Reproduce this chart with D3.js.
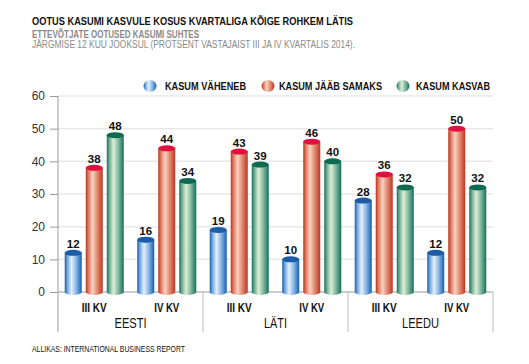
<!DOCTYPE html>
<html>
<head>
<meta charset="utf-8">
<script src="https://cdn.jsdelivr.net/npm/d3@7"></script>
<style>
  body { margin: 0; background: white; }
  .cond { font-family: "Liberation Sans", Arial, sans-serif; }
</style>
</head>
<body>
<div id="vis"></div>
<script>
// data
let countries = ['EESTI', 'LÄTI', 'LEEDU'];
let quarters = ['III KV', 'IV KV'];
let series = ['KASUM VÄHENEB', 'KASUM JÄÄB SAMAKS', 'KASUM KASVAB'];
// values per country, per quarter, in series order
let eesti = [[12, 38, 48], [16, 44, 34]];
let lati = [[19, 43, 39], [10, 46, 40]];
let leedu = [[28, 36, 32], [12, 50, 32]];
let yTicks = [0, 10, 20, 30, 40, 50, 60];

let values = { 'EESTI': eesti, 'LÄTI': lati, 'LEEDU': leedu };

let width = 529, height = 364;
let margin = { top: 96, left: 58, right: 36, bottom: 72 };

let svg = d3.select('#vis')
  .append('svg')
  .attr('width', width)
  .attr('height', height)
  .style('background-color', 'white');

// squeeze a text to a given width (the original uses a condensed face)
function squeeze(sel, w) {
  sel.attr('textLength', w).attr('lengthAdjust', 'spacingAndGlyphs');
}

// gradients for the cylinders
let colors = [
  { dark: '#155fae', mid: '#7fb0e2', light: '#e4f0fb', top: '#1c5ca6' },
  { dark: '#bd3522', mid: '#e0826a', light: '#f9d2c0', top: '#e0113f' },
  { dark: '#14705a', mid: '#7cb49c', light: '#dcefd4', top: '#0f6a52' }
];
let defs = svg.append('defs');
colors.forEach((c, i) => {
  let g = defs.append('linearGradient').attr('id', 'grad' + i)
    .attr('x1', '0%').attr('x2', '100%').attr('y1', '0%').attr('y2', '0%');
  g.append('stop').attr('offset', '0%').attr('stop-color', c.dark);
  g.append('stop').attr('offset', '18%').attr('stop-color', c.mid);
  g.append('stop').attr('offset', '40%').attr('stop-color', c.light);
  g.append('stop').attr('offset', '70%').attr('stop-color', c.mid);
  g.append('stop').attr('offset', '100%').attr('stop-color', c.dark);
});

// scales
let x0 = d3.scaleBand().domain(countries).range([margin.left, width - margin.right]);
let x1 = d3.scaleBand().domain(quarters).range([0, x0.bandwidth()]);
let x2 = d3.scaleBand().domain(series).range([0, x1.bandwidth()])
  .paddingInner(0.19).paddingOuter(0.32);
let y = d3.scaleLinear().domain([0, 60]).range([height - margin.bottom, margin.top]);

// titles
svg.append('text').attr('class', 'cond')
  .attr('x', 32).attr('y', 25)
  .style('font-size', '10.5px').style('font-weight', 'bold').attr('fill', '#111')
  .text('OOTUS KASUMI KASVULE KOSUS KVARTALIGA KÕIGE ROHKEM LÄTIS')
  .call(squeeze, 321);
svg.append('text').attr('class', 'cond')
  .attr('x', 32).attr('y', 37.5)
  .style('font-size', '10px').style('font-weight', 'bold').attr('fill', '#8a8a8a')
  .text('ETTEVÕTJATE OOTUSED KASUMI SUHTES')
  .call(squeeze, 167);
svg.append('text').attr('class', 'cond')
  .attr('x', 32).attr('y', 48)
  .style('font-size', '10px').attr('fill', '#8a8a8a')
  .text('JÄRGMISE 12 KUU JOOKSUL (PROTSENT VASTAJAIST III JA IV KVARTALIS 2014).')
  .call(squeeze, 323);

// gridlines
svg.append('g')
  .selectAll('line')
  .data(yTicks.filter(d => d > 0))
  .join('line')
  .attr('x1', margin.left).attr('x2', width - margin.right)
  .attr('y1', d => y(d)).attr('y2', d => y(d))
  .attr('stroke', '#e8e8e8').attr('stroke-width', 1.5);

// y axis
let yAxis = svg.append('g')
  .attr('transform', `translate(${margin.left},0)`)
  .call(d3.axisLeft(y).tickValues(yTicks).tickSize(8).tickPadding(5));
yAxis.select('.domain').attr('stroke', '#9a9a9a').attr('d', `M0,${y(60)}V${height - margin.bottom + 40}`);
yAxis.selectAll('.tick line').attr('stroke', '#9a9a9a');
yAxis.selectAll('.tick text')
  .style('font-family', 'Arial, "Liberation Sans", sans-serif')
  .style('font-size', '12px').attr('fill', '#333');

// baseline
svg.append('line')
  .attr('x1', margin.left).attr('x2', width - margin.right)
  .attr('y1', y(0)).attr('y2', y(0))
  .attr('stroke', '#9a9a9a');

// country separators
svg.append('g')
  .selectAll('line')
  .data(countries)
  .join('line')
  .attr('x1', d => x0(d) + x0.bandwidth()).attr('x2', d => x0(d) + x0.bandwidth())
  .attr('y1', y(0)).attr('y2', y(0) + 40)
  .attr('stroke', '#bdbdbd');

// bars
let flat = [];
countries.forEach(c => quarters.forEach((q, qi) => series.forEach((s, si) => {
  flat.push({ country: c, quarter: q, series: s, si: si, value: values[c][qi][si] });
})));

let ry = 3;
let bars = svg.append('g')
  .selectAll('g')
  .data(flat)
  .join('g')
  .attr('transform', d => `translate(${x0(d.country) + x1(d.quarter) + x2(d.series)},0)`);

let bw = x2.bandwidth();
bars.append('path')
  .attr('d', d => {
    let top = y(d.value), bot = y(0);
    return `M0,${top}V${bot}A${bw / 2},${ry} 0 0 0 ${bw},${bot}V${top}Z`;
  })
  .attr('fill', d => `url(#grad${d.si})`);
bars.append('ellipse')
  .attr('cx', bw / 2).attr('cy', d => y(d.value))
  .attr('rx', bw / 2).attr('ry', ry)
  .attr('fill', d => colors[d.si].top);
bars.append('text')
  .attr('x', bw / 2).attr('y', d => y(d.value) - 5)
  .attr('text-anchor', 'middle')
  .style('font-family', 'Arial, "Liberation Sans", sans-serif')
  .style('font-size', '11.5px').style('font-weight', 'bold').attr('fill', '#111')
  .text(d => d.value);

// quarter labels
let qlabels = [];
countries.forEach(c => quarters.forEach(q => qlabels.push({ c: c, q: q })));
svg.append('g')
  .selectAll('text')
  .data(qlabels)
  .join('text').attr('class', 'cond')
  .attr('x', d => x0(d.c) + x1(d.q) + x1.bandwidth() / 2)
  .attr('y', 312)
  .attr('text-anchor', 'middle')
  .style('font-size', '12.5px').style('font-weight', 'bold').attr('fill', '#111')
  .text(d => d.q)
  .call(squeeze, 25);

// country labels
let countryWidth = { 'EESTI': 32, 'LÄTI': 23, 'LEEDU': 37 };
svg.append('g')
  .selectAll('text')
  .data(countries)
  .join('text').attr('class', 'cond')
  .attr('x', d => x0(d) + x0.bandwidth() / 2)
  .attr('y', 328)
  .attr('text-anchor', 'middle')
  .style('font-size', '14px').attr('fill', '#111')
  .text(d => d)
  .each(function (d) { squeeze(d3.select(this), countryWidth[d]); });

// legend
let legendX = [150, 268, 403];
let legendTextX = [165, 279, 416];
let legendW = [81, 103, 74];
let legend = svg.append('g')
  .selectAll('g')
  .data(series)
  .join('g')
  .attr('transform', (d, i) => `translate(${legendX[i]},86)`);
legend.append('ellipse')
  .attr('rx', 6.5).attr('ry', 6)
  .attr('fill', (d, i) => `url(#grad${i})`);
legend.append('text').attr('class', 'cond')
  .attr('x', (d, i) => legendTextX[i] - legendX[i]).attr('y', 3.5)
  .style('font-size', '10px').style('font-weight', 'bold').attr('fill', '#111')
  .text(d => d)
  .each(function (d, i) { squeeze(d3.select(this), legendW[i]); });

// source
svg.append('text').attr('class', 'cond')
  .attr('x', 32).attr('y', 352)
  .style('font-size', '9px').attr('fill', '#111')
  .text('ALLIKAS: INTERNATIONAL BUSINESS REPORT')
  .call(squeeze, 153);
</script>
</body>
</html>
